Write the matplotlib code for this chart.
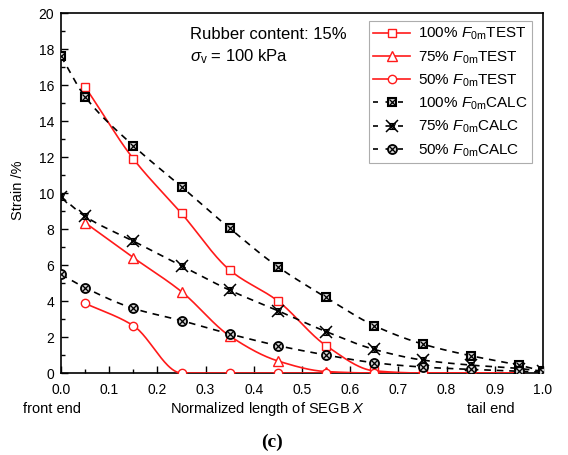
import numpy as np
import matplotlib
matplotlib.use("Agg")
import matplotlib.pyplot as plt
from matplotlib.lines import Line2D
from matplotlib.legend_handler import HandlerTuple

plt.rcParams['font.family'] = ['Liberation Sans', 'DejaVu Sans']
plt.rcParams['mathtext.fontset'] = 'custom'
plt.rcParams['mathtext.rm'] = 'Liberation Sans'
plt.rcParams['mathtext.it'] = 'Liberation Sans:italic'
plt.rcParams['mathtext.sf'] = 'Liberation Sans'

# ---- data ----
x_test = [0.05, 0.15, 0.25, 0.35, 0.45, 0.55, 0.65, 0.75, 0.85, 0.95]
test_100 = [15.9, 11.9, 8.87, 5.72, 4.0, 1.52, 0.12, 0.0, 0.0, 0.0]
test_75 = [8.35, 6.41, 4.52, 2.06, 0.67, 0.08, 0.0, 0.0, 0.0, 0.0]
test_50 = [3.87, 2.63, 0.0, 0.0, 0.0, 0.0, 0.0, 0.0, 0.0, 0.0]

x_calc = [0.0, 0.05, 0.15, 0.25, 0.35, 0.45, 0.55, 0.65, 0.75, 0.85, 0.95, 1.0]
calc_100 = [17.6, 15.35, 12.63, 10.35, 8.04, 5.9, 4.2, 2.63, 1.61, 0.96, 0.44, 0.1]
calc_75 = [9.8, 8.7, 7.33, 5.96, 4.6, 3.46, 2.3, 1.31, 0.72, 0.44, 0.25, 0.1]
calc_50 = [5.48, 4.74, 3.59, 2.91, 2.17, 1.52, 1.0, 0.57, 0.33, 0.2, 0.1, 0.05]

labels_test = ["100% $\\mathit{F}_{\\mathrm{0m}}$TEST", "75% $\\mathit{F}_{\\mathrm{0m}}$TEST",
               "50% $\\mathit{F}_{\\mathrm{0m}}$TEST"]
labels_calc = ["100% $\\mathit{F}_{\\mathrm{0m}}$CALC", "75% $\\mathit{F}_{\\mathrm{0m}}$CALC",
               "50% $\\mathit{F}_{\\mathrm{0m}}$CALC"]


def pchip(x, y, xs):
    x = np.asarray(x, float); y = np.asarray(y, float)
    h = np.diff(x); d = np.diff(y) / h
    n = len(x); m = np.zeros(n)
    for k in range(1, n - 1):
        if d[k - 1] * d[k] > 0:
            w1 = 2 * h[k] + h[k - 1]; w2 = h[k] + 2 * h[k - 1]
            m[k] = (w1 + w2) / (w1 / d[k - 1] + w2 / d[k])
    m[0] = d[0]; m[-1] = d[-1]
    out = np.empty_like(xs)
    for i, xv in enumerate(xs):
        k = min(max(np.searchsorted(x, xv) - 1, 0), n - 2)
        t = (xv - x[k]) / h[k]
        h00 = 2 * t**3 - 3 * t**2 + 1; h10 = t**3 - 2 * t**2 + t
        h01 = -2 * t**3 + 3 * t**2; h11 = t**3 - t**2
        out[i] = h00 * y[k] + h10 * h[k] * m[k] + h01 * y[k + 1] + h11 * h[k] * m[k + 1]
    return out


fig = plt.figure(figsize=(5.68, 4.55), dpi=100)
ax = fig.add_axes([0.1074, 0.1802, 0.8486, 0.7912])

red = '#ff1a1a'
test_markers = ['s', '^', 'o']
test_ms = [5.5, 6.5, 6]
for ys, mk, ms in zip([test_100, test_75, test_50], test_markers, test_ms):
    xs = np.linspace(x_test[0], x_test[-1], 400)
    ax.plot(xs, pchip(x_test, ys, xs), color=red, lw=1.2, zorder=3)
    ax.plot(x_test, ys, ls='none', marker=mk, ms=ms, mfc='white', mec=red, mew=1.0, zorder=4)

dash = (0, (4, 3.5))
calc_sets = [calc_100, calc_75, calc_50]
for ys in calc_sets:
    xs = np.linspace(0, 1, 400)
    ax.plot(xs, pchip(x_calc, ys, xs), color='black', lw=1.2, ls=dash, zorder=5)


def calc_specs(kind):
    if kind == 0:
        return [dict(marker='s', ms=6, mfc='#cfcfcf', mec='black', mew=1.5),
                dict(marker='x', ms=4, mec='black', mew=0.9)]
    if kind == 1:
        return [dict(marker='x', ms=8.5, mec='black', mew=1.1),
                dict(marker='^', ms=4.5, mfc='none', mec='black', mew=0.8),
                dict(marker='v', ms=4.5, mfc='none', mec='black', mew=0.8)]
    return [dict(marker='o', ms=6.5, mfc='#cfcfcf', mec='black', mew=1.3),
            dict(marker='x', ms=4, mec='black', mew=0.9)]


for i, ys in enumerate(calc_sets):
    for s in calc_specs(i):
        ax.plot(x_calc, ys, ls='none', color='black', zorder=6, **s)

ax.set_xlim(0, 1.0)
ax.set_ylim(0, 20)
ax.set_xticks(np.arange(0, 1.01, 0.1))
ax.set_xticks(np.arange(0.05, 1.0, 0.1), minor=True)
ax.set_yticks(np.arange(0, 21, 2))
ax.set_yticks(np.arange(1, 20, 2), minor=True)
ax.xaxis.set_major_formatter(matplotlib.ticker.FormatStrFormatter('%.1f'))
ax.tick_params(which='both', direction='in', labelsize=10, width=1.0)
ax.tick_params(which='major', length=5)
ax.tick_params(which='minor', length=3)
ax.tick_params(axis='x', pad=7)
ax.tick_params(axis='y', pad=5)
for sp in ax.spines.values():
    sp.set_linewidth(1.2)

# legend
handles = []
for mk, ms in zip(test_markers, test_ms):
    handles.append(Line2D([], [], color=red, lw=1.2, marker=mk, ms=ms, mfc='white', mec=red, mew=1.0))
for i in range(3):
    ln = Line2D([], [], color='black', lw=1.2, ls=(0, (3, 4.5)))
    arts = [ln] + [Line2D([], [], ls='none', color='black', **s) for s in calc_specs(i)]
    handles.append(tuple(arts))
leg = ax.legend(handles, labels_test + labels_calc, loc='upper right',
                bbox_to_anchor=(0.977, 0.977), fontsize=11, frameon=True, fancybox=False,
                edgecolor='#999999', handlelength=2.4, handletextpad=0.5, labelspacing=0.45,
                borderpad=0.3, borderaxespad=0.0,
                handler_map={tuple: HandlerTuple(ndivide=1, pad=0)})
leg.get_frame().set_linewidth(0.8)

ax.text(0.268, 18.8, "Rubber content: 15%", fontsize=12, va='center', ha='left')
ax.text(0.268, 17.6, "$\\sigma_{\\mathrm{v}}$ = 100 kPa", fontsize=12, va='center', ha='left')

fig.text(18 / 568, 1 - 190 / 455, "Strain /%", rotation=90, fontsize=10.5, va='center', ha='center')
fig.text(268 / 568, 1 - 409 / 455, "Normalized length of SEGB $\\mathit{X}$", fontsize=10.5,
         va='center', ha='center')
fig.text(23 / 568, 1 - 409 / 455, "front end", fontsize=10.5, va='center', ha='left')
fig.text(515 / 568, 1 - 409 / 455, "tail end", fontsize=10.5, va='center', ha='right')
fig.text(272 / 568, 1 - 442 / 455, "(c)", fontsize=14, fontweight='bold', va='center', ha='center',
         family='Liberation Serif')

fig.savefig("out.png", dpi=100)
